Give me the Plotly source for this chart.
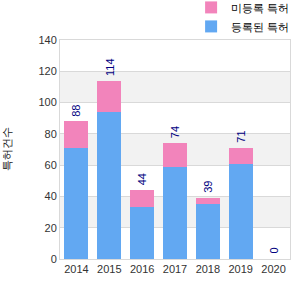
import plotly.graph_objects as go

years = ["2014", "2015", "2016", "2017", "2018", "2019", "2020"]
registered = [71, 94, 33, 59, 35, 61, 0]
unregistered = [17, 20, 11, 15, 4, 10, 0]
totals = [88, 114, 44, 74, 39, 71, 0]
y_ticks = [0, 20, 40, 60, 80, 100, 120, 140]

name_blue = "등록된 특허"
name_pink = "미등록 특허"
y_title = "특허건수"

blue = "#62A8F2"
pink = "#F284BB"
font_fam = "Liberation Sans, Arial, sans-serif"

fig = go.Figure()
fig.add_trace(go.Bar(x=years, y=registered, name=name_blue, marker=dict(color=blue, line=dict(width=0))))
fig.add_trace(go.Bar(x=years, y=unregistered, name=name_pink, marker=dict(color=pink, line=dict(width=0))))

# alternating bands
for lo in [20, 60, 100]:
    fig.add_shape(type="rect", xref="paper", yref="y", x0=0, x1=1, y0=lo, y1=lo + 20,
                  fillcolor="#F2F2F2", line=dict(width=0), layer="below")

for i, t in enumerate(totals):
    fig.add_annotation(x=i, y=t, text=str(t), textangle=-90, showarrow=False,
                       yanchor="bottom", yshift=3, font=dict(size=11, color="#00007F", family=font_fam))

fig.update_layout(
    width=300, height=300,
    margin=dict(l=60, r=10, t=40, b=41, autoexpand=False),
    barmode="stack", bargap=0.27,
    paper_bgcolor="white", plot_bgcolor="white",
    font=dict(family=font_fam, size=11, color="#333333"),
    showlegend=True,
    legend=dict(x=0.57, y=1.215, xanchor="left", yanchor="top", traceorder="reversed",
                font=dict(size=11, color="#000000"), itemwidth=30, tracegroupgap=0,
                bgcolor="rgba(0,0,0,0)"),
    xaxis=dict(type="category", range=[-0.5, len(years) - 0.5], showline=True, linecolor="#D9D9D9",
               mirror=True, ticks="", showgrid=False, tickangle=0,
               tickfont=dict(size=11, color="#333333")),
    yaxis=dict(range=[0, 140], tickvals=y_ticks, showline=True, linecolor="#D9D9D9", mirror=True,
               gridcolor="#D9D9D9", zeroline=False, ticks="", ticklen=0,
               tickfont=dict(size=11, color="#333333"),
               title=dict(text=y_title, font=dict(size=11, color="#222222"), standoff=24)),
)

fig.write_html("out.html")
